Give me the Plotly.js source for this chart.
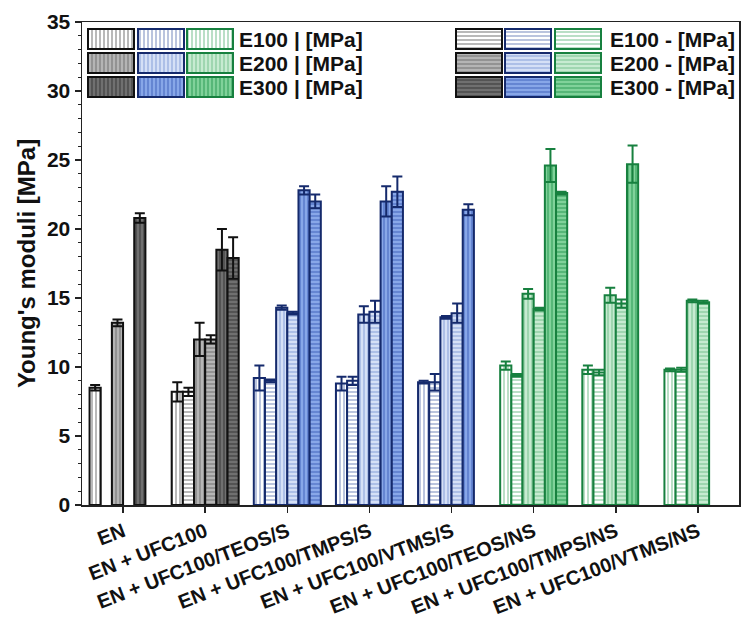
<!DOCTYPE html>
<html>
<head>
<meta charset="utf-8">
<script src="https://cdn.plot.ly/plotly-3.0.1.min.js"></script>
<style>
  html, body { margin: 0; padding: 0; background: #fff; }
  #chart { width: 754px; height: 626px; }
</style>
</head>
<body>
<div id="chart"></div>
<script>
// Young's moduli per sample, vertical (|) and horizontal (-) directions

const categories = [
  'EN', 'EN + UFC100', 'EN + UFC100/TEOS/S', 'EN + UFC100/TMPS/S',
  'EN + UFC100/VTMS/S', 'EN + UFC100/TEOS/NS', 'EN + UFC100/TMPS/NS', 'EN + UFC100/VTMS/NS'
];
// colour family of each sample group
const family = ['grey', 'grey', 'blue', 'blue', 'blue', 'green', 'green', 'green'];

const e100v = [8.5, 8.2, 9.2, 8.8, 8.9, 10.1, 9.8, 9.8];
const e100vErr = [0.2, 0.7, 0.9, 0.5, 0.1, 0.3, 0.3, 0.1];
const e100h = [null, 8.2, 9.0, 9.0, 8.9, 9.4, 9.6, 9.8];
const e100hErr = [null, 0.3, 0.1, 0.3, 0.6, 0.1, 0.2, 0.15];
const e200v = [13.2, 12.0, 14.3, 13.8, 13.6, 15.3, 15.2, 14.8];
const e200vErr = [0.25, 1.2, 0.15, 0.6, 0.1, 0.35, 0.55, 0.1];
const e200h = [null, 12.0, 13.9, 14.0, 13.9, 14.2, 14.6, 14.7];
const e200hErr = [null, 0.3, 0.1, 0.8, 0.7, 0.1, 0.3, 0.1];
const e300v = [20.8, 18.5, 22.8, 22.0, 21.4, 24.6, 24.7, null];
const e300vErr = [0.35, 1.5, 0.3, 1.1, 0.4, 1.2, 1.35, null];
const e300h = [null, 17.9, 22.0, 22.7, null, 22.6, null, null];
const e300hErr = [null, 1.5, 0.5, 1.1, null, 0.1, null, null];

const legendLabelsV = ['E100 | [MPa]', 'E200 | [MPa]', 'E300 | [MPa]'];
const legendLabelsH = ['E100 - [MPa]', 'E200 - [MPa]', 'E300 - [MPa]'];

const palettes = {
  grey:  { line: '#111111', fill: ['#ffffff', '#b5b5b5', '#707070'], hatch: ['#8a8a8a', '#7c7c7c', '#404040'] },
  blue:  { line: '#152a6c', fill: ['#ffffff', '#d5e0f6', '#88a7e8'], hatch: ['#8c9dc9', '#93aadd', '#4d6fc4'] },
  green: { line: '#17803f', fill: ['#ffffff', '#c7ebd1', '#80d29a'], hatch: ['#8ccaa1', '#84c99a', '#3aa561'] }
};
const families = ['grey', 'blue', 'green'];

const series = [
  { y: e100v, err: e100vErr, shape: '|', level: 0 },
  { y: e100h, err: e100hErr, shape: '-', level: 0 },
  { y: e200v, err: e200vErr, shape: '|', level: 1 },
  { y: e200h, err: e200hErr, shape: '-', level: 1 },
  { y: e300v, err: e300vErr, shape: '|', level: 2 },
  { y: e300h, err: e300hErr, shape: '-', level: 2 }
];

const font = 'Arial, "Liberation Sans", sans-serif';
const traces = [];

series.forEach((s, si) => {
  families.forEach(f => {
    const idx = categories.map((_, i) => i).filter(i => family[i] === f && s.y[i] != null);
    if (!idx.length) return;
    const pal = palettes[f];
    traces.push({
      type: 'bar',
      x: idx.map(i => categories[i]),
      y: idx.map(i => s.y[i]),
      offsetgroup: 'g' + si,
      marker: {
        color: pal.fill[s.level],
        line: { color: pal.line, width: 2 },
        pattern: {
          shape: s.shape, size: 4, solidity: 0.3,
          fgcolor: pal.hatch[s.level], bgcolor: pal.fill[s.level], fillmode: 'replace'
        }
      },
      error_y: {
        type: 'data', array: idx.map(i => s.err[i]), visible: true,
        color: pal.line, thickness: 2, width: 5
      },
      showlegend: false,
      hoverinfo: 'skip'
    });
  });
});

// hand-made legend: swatches drawn as bars on a pixel-like overlay axis
const legendRows = [17, 41, 65];
const swatchH = 20, swatchW = 46;
const legendBlocks = [
  { shape: '|', starts: [6, 56, 105], textX: 155, labels: legendLabelsV },
  { shape: '-', starts: [374, 423, 473], textX: 526, labels: legendLabelsH }
];
const annotations = [];

legendBlocks.forEach(block => {
  legendRows.forEach((ry, level) => {
    families.forEach((f, fi) => {
      const pal = palettes[f];
      traces.push({
        type: 'bar', orientation: 'h',
        xaxis: 'x2', yaxis: 'y2',
        y: [ry], x: [swatchW], base: [block.starts[fi]],
        width: [swatchH], offset: -swatchH / 2,
        marker: {
          color: pal.fill[level],
          line: { color: pal.line, width: 2 },
          pattern: {
            shape: block.shape, size: 4, solidity: 0.3,
            fgcolor: pal.hatch[level], bgcolor: pal.fill[level], fillmode: 'replace'
          }
        },
        showlegend: false,
        hoverinfo: 'skip'
      });
    });
    annotations.push({
      xref: 'x2', yref: 'y2', x: block.textX, y: ry,
      xanchor: 'left', yanchor: 'middle', showarrow: false,
      text: block.labels[level],
      font: { family: font, size: 21, color: '#111', weight: 'bold' }
    });
  });
});

const layout = {
  width: 754, height: 626,
  margin: { l: 82, r: 15, t: 22, b: 121 },
  paper_bgcolor: '#fff', plot_bgcolor: '#fff',
  barmode: 'group', bargap: 0.184, bargroupgap: 0,
  showlegend: false,
  font: { family: font, color: '#111' },
  xaxis: {
    type: 'category', categoryorder: 'array', categoryarray: categories,
    range: [-0.5, 7.5],
    showline: true, linecolor: '#222', linewidth: 1.5, mirror: true,
    ticks: 'outside', ticklen: 6, tickwidth: 1.5, tickcolor: '#222',
    tickangle: -21, showgrid: false, zeroline: false,
    tickfont: { family: font, size: 20, color: '#111', weight: 'bold' }
  },
  yaxis: {
    range: [0, 35], dtick: 5,
    showline: true, linecolor: '#222', linewidth: 1.5, mirror: true,
    ticks: 'outside', ticklen: 6, tickwidth: 1.5, tickcolor: '#222',
    minor: { dtick: 1, ticks: 'outside', ticklen: 3, tickwidth: 1, tickcolor: '#222' },
    showgrid: false, zeroline: false,
    tickfont: { family: font, size: 21, color: '#111', weight: 'bold' },
    title: { text: "Young's moduli [MPa]", standoff: 4, font: { family: font, size: 24, color: '#111', weight: 'bold' } }
  },
  xaxis2: { overlaying: 'x', anchor: 'y2', range: [0, 657], visible: false, fixedrange: true },
  yaxis2: { overlaying: 'y', anchor: 'x2', range: [483, 0], visible: false, fixedrange: true },
  annotations
};

Plotly.newPlot('chart', traces, layout, { displayModeBar: false, staticPlot: true });
</script>
</body>
</html>
